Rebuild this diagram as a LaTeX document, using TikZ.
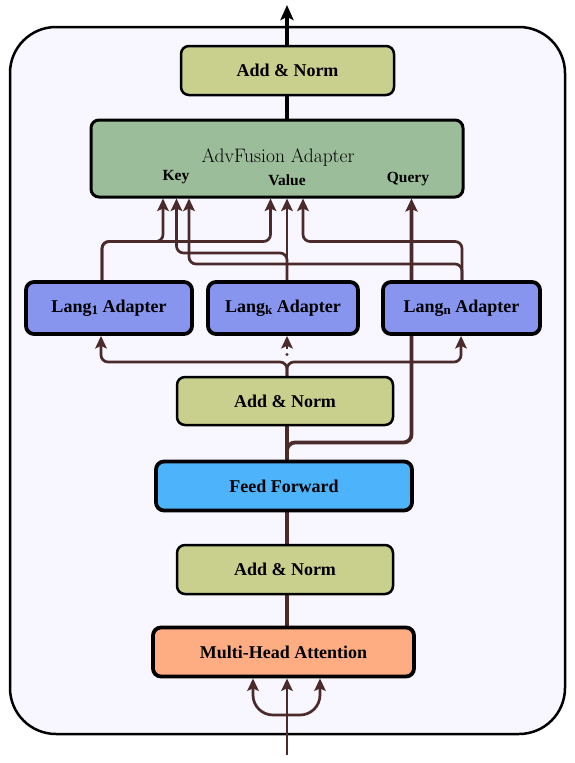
\documentclass[tikz,border=0pt]{standalone}
\usepackage{fontspec}
\newfontfamily\lblfont{Liberation Serif}
\usetikzlibrary{arrows.meta,backgrounds}
\definecolor{bgc}{HTML}{F8F6FE}
\definecolor{normc}{HTML}{C9CF8C}
\definecolor{advc}{HTML}{9BBD9A}
\definecolor{langc}{HTML}{8795EF}
\definecolor{ffc}{HTML}{4DB3FA}
\definecolor{mhac}{HTML}{FEAD83}
\definecolor{brn}{HTML}{4A2A2A}
\newcommand{\lsub}[1]{\raisebox{-0.25ex}{\fontsize{13}{14}\selectfont #1}}
\tikzset{
  box/.style={draw=black, rectangle, rounded corners=8pt, inner sep=0pt,
    font=\lblfont\bfseries\fontsize{18}{21}\selectfont},
  normbox/.style={box, fill=normc, line width=2.5pt, minimum width=216pt, minimum height=48pt},
  langbox/.style={box, fill=langc, line width=3.8pt, minimum height=52pt},
  conn/.style={draw=brn, line width=2.7pt, rounded corners=7pt},
  arr/.style={-{Stealth[length=12.5pt,width=11.5pt,inset=2.5pt]}},
  lbl/.style={inner sep=0pt, font=\lblfont\bfseries\fontsize{15.5}{18}\selectfont}
}
\begin{document}
\begin{tikzpicture}[x=1pt,y=-1pt]
\useasboundingbox (0,0) rectangle (574,763);

% nodes
\node[normbox, minimum width=213pt, minimum height=49pt] (an3) at (287.5,70.5) {Add \& Norm};
\node[box, fill=advc, line width=3pt, minimum width=372pt, minimum height=77pt] (adv) at (277,158.5) {};
\node[inner sep=0pt, font=\fontsize{19.5}{22}\selectfont] (advt) at (278,158) {AdvFusion Adapter};
\node[lbl] (key) at (176,177) {Key};
\node[lbl] (val) at (287,180) {Value};
\node[lbl] (qry) at (408,179) {Query};
\node[langbox, minimum width=166pt] (l1) at (109,308) {Lang\lsub{1} Adapter};
\node[langbox, minimum width=150pt] (lk) at (283,308) {Lang\lsub{k} Adapter};
\node[langbox, minimum width=157pt] (ln) at (461.5,308) {Lang\lsub{n} Adapter};
\node[normbox] (an2) at (285,401) {Add \& Norm};
\node[box, fill=ffc, line width=3.8pt, minimum width=256pt, minimum height=49pt] (ff) at (284,486) {Feed Forward};
\node[normbox, minimum height=49pt] (an1) at (285,569.5) {Add \& Norm};
\node[box, fill=mhac, line width=3.8pt, minimum width=261pt, minimum height=49pt] (mha) at (283.5,652) {Multi-Head Attention};

% helper coordinates
\coordinate (xm) at (287,0);
\coordinate (xa) at (102,0);
\coordinate (xa2) at (101,0);
\coordinate (xn) at (462,0);
\coordinate (xn2) at (461,0);
\coordinate (xk1) at (163,0);
\coordinate (xk2) at (176.5,0);
\coordinate (xk3) at (189,0);
\coordinate (xv1) at (270.5,0);
\coordinate (xv3) at (303,0);
\coordinate (xq) at (411.5,0);
\coordinate (xl) at (253,0);
\coordinate (xr) at (320,0);
\coordinate (h1) at (0,241.5);
\coordinate (h2) at (0,253);
\coordinate (h3) at (0,264);
\coordinate (hb) at (0,362);
\coordinate (hq) at (0,442.5);
\coordinate (hi) at (0,715);
\coordinate (top) at (287,5);
\coordinate (inp) at (287,755);
\coordinate (dot) at (287,354.5);
\coordinate (ka) at (287,349);
\coordinate (ob1) at (10,27);
\coordinate (ob2) at (565,734);

\begin{scope}[on background layer]
\draw[fill=bgc, line width=2.5pt, rounded corners=46pt] (ob1) rectangle (ob2);
% top
\draw[line width=3.6pt, -{Stealth[length=15pt,width=13pt,inset=3pt]}] (an3.north -| xm) -- (top);
\draw[line width=3.6pt] (adv.north -| xm) -- (an3.south -| xm);
% lang1 -> key/value
\draw[conn,arr] (l1.north -| xa) -- (xa |- h1) -- (xk1 |- h1) -- (adv.south -| xk1);
\draw[conn,arr] (l1.north -| xa) -- (xa |- h1) -- (xv1 |- h1) -- (adv.south -| xv1);
% langk
\draw[conn,arr] (lk.north -| xm) -- (adv.south -| xm);
\draw[conn,arr] (lk.north -| xm) -- (xm |- h2) -- (xk2 |- h2) -- (adv.south -| xk2);
% langn
\draw[conn,arr] (ln.north -| xn) -- (xn |- h1) -- (xv3 |- h1) -- (adv.south -| xv3);
\draw[conn,arr] (ln.north -| xn) -- (xn |- h3) -- (xk3 |- h3) -- (adv.south -| xk3);
% query
\draw[conn, line width=3.8pt, rounded corners=8pt, -{Stealth[length=13pt,width=12pt,inset=2.5pt]}] (ff.north -| xm) -- (xm |- hq) -- (xq |- hq) -- (adv.south -| xq);
% main vertical
\draw[conn, line width=3.4pt] (mha.north -| xm) -- (an1.south -| xm);
\draw[conn, line width=3.4pt] (an1.north -| xm) -- (ff.south -| xm);
\draw[conn, line width=3.4pt] (ff.north -| xm) -- (an2.south -| xm);
% to lang adapters
\draw[conn,arr] (an2.north -| xm) -- (xm |- hb) -- (xa2 |- hb) -- (l1.south -| xa2);
\draw[conn,arr] (an2.north -| xm) -- (xm |- hb) -- (xn2 |- hb) -- (ln.south -| xn2);
\fill[brn] (dot) circle (1.7pt);
\draw[conn,arr] (ka) -- (lk.south -| xm);
% input
\draw[conn,arr] (inp) -- (mha.south -| xm);
\draw[conn,arr,rounded corners=20pt] (xm |- hi) -- (xl |- hi) -- (mha.south -| xl);
\draw[conn,arr,rounded corners=20pt] (xm |- hi) -- (xr |- hi) -- (mha.south -| xr);
\end{scope}
\end{tikzpicture}
\end{document}
